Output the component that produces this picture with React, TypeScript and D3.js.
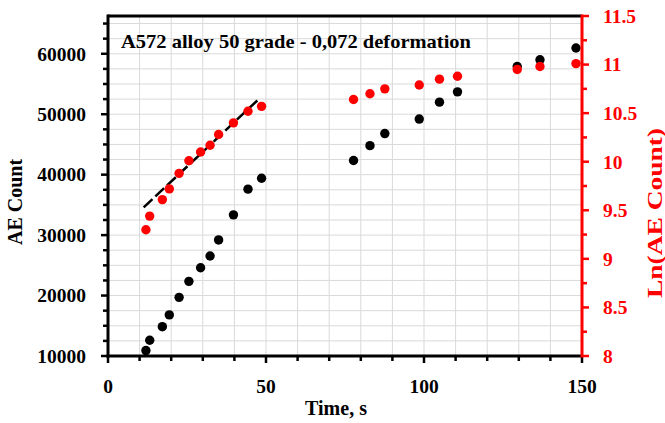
import React from "react";
import * as d3 from "d3";

const times = [12.0, 13.2, 17.2, 19.4, 22.5, 25.6, 29.3, 32.3, 35.0, 39.7, 44.3, 48.6, 77.7, 82.9, 87.6, 98.5, 104.9, 110.6, 129.5, 136.7, 148.1];
const aeCount = [10900, 12600, 14850, 16800, 19700, 22350, 24600, 26550, 29200, 33350, 37600, 39400, 42350, 44800, 46800, 49200, 52000, 53700, 57900, 59000, 60950];
const lnAeCount = [9.30, 9.44, 9.61, 9.72, 9.88, 10.01, 10.10, 10.17, 10.28, 10.40, 10.52, 10.57, 10.64, 10.70, 10.75, 10.79, 10.85, 10.88, 10.95, 10.98, 11.01];
const trendX = [11.3, 47.9];
const trendY = [9.53, 10.65];
const xTicks = [0, 50, 100, 150];
const leftTicks = [10000, 20000, 30000, 40000, 50000, 60000];
const rightTicks = [8, 8.5, 9, 9.5, 10, 10.5, 11, 11.5];
const title = "A572 alloy 50 grade - 0,072 deformation";

const W = 665, H = 423;
const L = 108, R = 582, T = 16, B = 356;
const FONT = "'Liberation Serif', 'Times New Roman', serif";

export default function App() {
  const x = d3.scaleLinear().domain([0, 150]).range([L, R]);
  const yL = d3.scaleLinear().domain([10000, 66250]).range([B, T]);
  const yR = d3.scaleLinear().domain([8, 11.5]).range([B, T]);

  const xMinor = d3.range(0, 151, 10);
  const yMinor = d3.range(10000, 66001, 2500);
  const rMinor = d3.range(8, 11.51, 0.25);

  const trend = d3.line<number>().x((d, i) => x(trendX[i])).y((d, i) => yR(trendY[i]))(trendX);

  return (
    <div style={{ position: "absolute", left: 0, top: 0 }}>
      <svg width={W} height={H} style={{ display: "block", background: "#fff" }} fontFamily={FONT} fontWeight="bold">
        {/* grid */}
        {xMinor.filter(v => v > 0 && v < 150).map(v => (
          <line key={"gx" + v} x1={x(v)} x2={x(v)} y1={T} y2={B} stroke="#d9d9d9" strokeWidth={1} />
        ))}
        {yMinor.filter(v => v > 10000).map(v => (
          <line key={"gy" + v} x1={L} x2={R} y1={yL(v)} y2={yL(v)} stroke="#d9d9d9" strokeWidth={1} />
        ))}
        {/* title */}
        <text x={121} y={48} fontSize={19.5} textLength={350} lengthAdjust="spacingAndGlyphs" fill="#000">{title}</text>
        {/* trend line */}
        <path d={trend || ""} stroke="#000" strokeWidth={2.5} strokeDasharray="12,4" fill="none" />
        {/* black points */}
        {times.map((t, i) => (
          <circle key={"b" + i} cx={x(t)} cy={yL(aeCount[i])} r={4.7} fill="#000" />
        ))}
        {/* red points */}
        {times.map((t, i) => (
          <circle key={"r" + i} cx={x(t)} cy={yR(lnAeCount[i])} r={4.7} fill="#ff0000" />
        ))}
        {/* top border */}
        <line x1={L} x2={R} y1={T} y2={T} stroke="#000" strokeWidth={3} />
        {/* left axis */}
        <line x1={L} x2={L} y1={T - 1.5} y2={B + 1.5} stroke="#000" strokeWidth={3} />
        {yMinor.map(v => (
          <line key={"lt" + v} x1={L - (v % 10000 === 0 ? 7 : 5)} x2={L} y1={yL(v)} y2={yL(v)} stroke="#000" strokeWidth={2.5} />
        ))}
        {leftTicks.map(v => (
          <text key={"ll" + v} x={86} y={yL(v)} dy="0.35em" textAnchor="end" fontSize={19.5} fill="#000">{v}</text>
        ))}
        {/* bottom axis */}
        <line x1={L - 1.5} x2={R} y1={B} y2={B} stroke="#000" strokeWidth={3} />
        {xMinor.map(v => (
          <line key={"bt" + v} x1={x(v)} x2={x(v)} y1={B} y2={B + (v % 50 === 0 ? 7 : 5)} stroke="#000" strokeWidth={2.5} />
        ))}
        {xTicks.map(v => (
          <text key={"bl" + v} x={x(v)} y={392.5} textAnchor="middle" fontSize={19.5} fill="#000">{v}</text>
        ))}
        {/* right axis */}
        <line x1={R} x2={R} y1={T - 1.5} y2={B + 1.5} stroke="#ff0000" strokeWidth={3} />
        {rMinor.map(v => (
          <line key={"rt" + v} x1={R} x2={R + (Math.abs(v * 2 - Math.round(v * 2)) < 1e-6 ? 7 : 5)} y1={yR(v)} y2={yR(v)} stroke="#ff0000" strokeWidth={2.5} />
        ))}
        {rightTicks.map(v => (
          <text key={"rl" + v} x={603} y={yR(v)} dy="0.35em" textAnchor="start" fontSize={19.5} fill="#ff0000">{v}</text>
        ))}
        {/* axis titles */}
        <text x={336} y={415} textAnchor="middle" fontSize={20} fill="#000">Time, s</text>
        <text transform="translate(22,202) rotate(-90)" textAnchor="middle" fontSize={20} fill="#000">AE Count</text>
        <text transform="translate(662,213) rotate(-90)" textAnchor="middle" fontSize={20.5} textLength={170} lengthAdjust="spacingAndGlyphs" fill="#ff0000">Ln(AE Count)</text>
      </svg>
    </div>
  );
}
